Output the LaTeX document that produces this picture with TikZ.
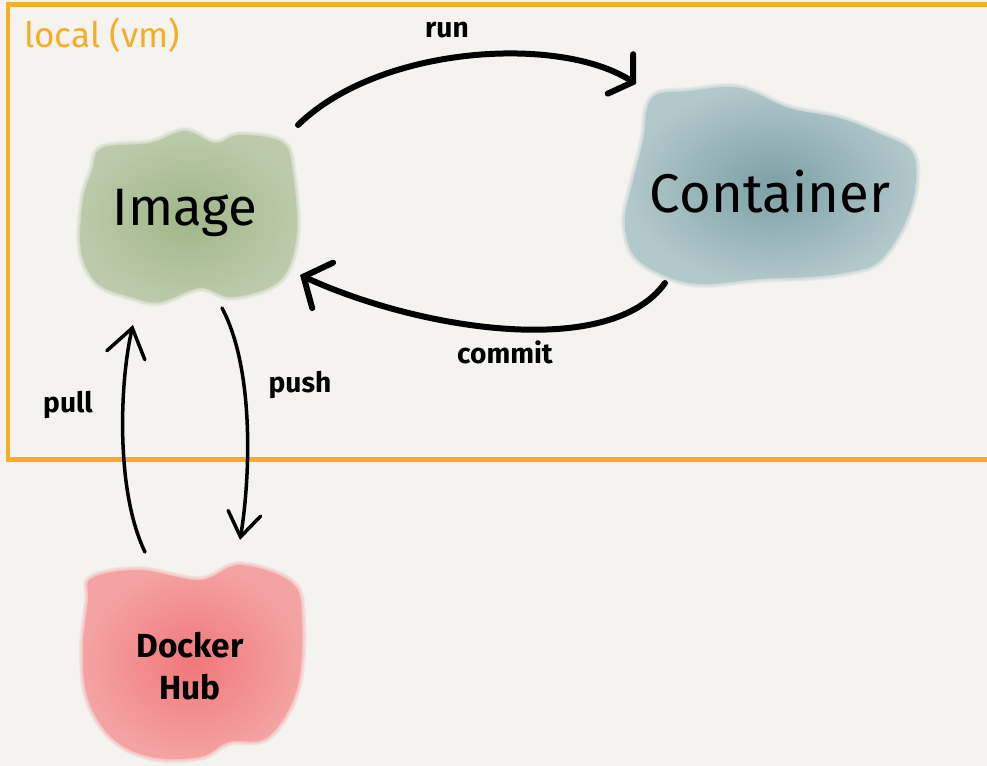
\documentclass[tikz,border=0pt]{standalone}
\usepackage{fontspec}
\setmainfont{Fira Sans}
\usetikzlibrary{arrows.meta}
\definecolor{bgc}{HTML}{F4F3EF}
\definecolor{boxc}{HTML}{F5AE26}
\definecolor{imgin}{HTML}{A0B688}
\definecolor{imgout}{HTML}{BCCAAB}
\definecolor{conin}{HTML}{7CA0A6}
\definecolor{conout}{HTML}{B3C8CB}
\definecolor{hubin}{HTML}{F0777A}
\definecolor{hubout}{HTML}{F4A3A4}
\tikzset{
  bigtxt/.style={font=\fontsize{30}{32}\selectfont, text=black},
  lbl/.style={font=\bfseries\fontsize{16}{18}\selectfont, text=black},
  thick arrow/.style={line width=0.12cm, line cap=round, black},
  thin arrow/.style={line width=0.07cm, line cap=round, black},
  halo/.style={draw=#1, line join=round, draw opacity=0.18},
}
\newcommand{\imgblob}{plot[smooth cycle, tension=0.6] coordinates {(102,148) (150,143) (185,131) (215,143) (240,135) (283,143) (293,175) (297,230) (288,269) (268,288) (230,297) (200,288) (160,302) (131,297) (97,283) (81,250) (83,200) (92,171)}}
\newcommand{\conblob}{plot[smooth cycle, tension=0.6] coordinates {(652,98) (690,91) (740,88) (789,108) (839,118) (878,133) (912,152) (915,190) (902,229) (878,262) (849,272) (810,277) (760,279) (700,284) (661,274) (633,254) (625,220) (633,181) (643,141)}}
\newcommand{\hubblob}{plot[smooth cycle, tension=0.6] coordinates {(92,578) (140,570) (200,580) (240,565) (292,583) (302,620) (297,689) (268,737) (229,742) (200,757) (151,757) (112,738) (88,699) (83,650) (88,601)}}
\begin{document}
\begin{tikzpicture}[x=0.02cm, y=-0.02cm]
\useasboundingbox (0,0) rectangle (987,766);
\fill[bgc] (0,0) rectangle (987,766);
\begin{scope}
\clip (0,0) rectangle (987,766);
% local box
\draw[boxc, line width=0.1cm] (1020,5) -- (8,5) -- (8,460) -- (1020,460);
% Image blob
\foreach \w in {0.04,0.08,0.12,0.16}{\path[halo=imgout, line width=\w cm] \imgblob;}
\shade[inner color=imgin, outer color=imgout] \imgblob;
% Container blob
\foreach \w in {0.04,0.08,0.12,0.16}{\path[halo=conout, line width=\w cm] \conblob;}
\shade[inner color=conin, outer color=conout] \conblob;
% Docker Hub blob
\foreach \w in {0.04,0.08,0.12,0.16}{\path[halo=hubout, line width=\w cm] \hubblob;}
\shade[inner color=hubin, outer color=hubout] \hubblob;
\end{scope}
% labels
\node[font=\fontsize{20}{22}\selectfont, text=boxc] (loc) at (102,35) {local (vm)};
\node[bigtxt] (img) at (185,213) {Image};
\node[bigtxt, font=\fontsize{31}{33}\selectfont] (cont) at (770,192) {Container};
\node[font=\bfseries\fontsize{19}{24}\selectfont, align=center, text=black] (hub) at (190,666) {Docker\\Hub};
% connector end points
\coordinate (runS) at (298,125);
\coordinate (runE) at (636,84);
\coordinate (comS) at (665,283);
\coordinate (comE) at (300,275);
\coordinate (pushS) at (222,308);
\coordinate (pushE) at (240,540);
\coordinate (pullS) at (145,552);
\coordinate (pullE) at (133,325);
% arrows
\draw[thick arrow, -{Straight Barb[length=0.3cm, width=0.94cm, line cap=round]}] (runS) .. controls (380,45) and (560,35) .. (runE);
\draw[thick arrow, -{Straight Barb[length=0.42cm, width=1.0cm, line cap=round]}] (comS) .. controls (610,360) and (420,330) .. (comE);
\draw[thin arrow, -{Straight Barb[length=0.48cm, width=0.66cm, line cap=round]}] (pushS) .. controls (255,370) and (250,480) .. (pushE);
\draw[thin arrow, -{Straight Barb[length=0.56cm, width=0.78cm, line cap=round]}] (pullS) .. controls (115,490) and (120,380) .. (pullE);
\node[lbl] (run) at (447,30) {run};
\node[lbl] (commit) at (505,352) {commit};
\node[lbl] (push) at (300,385) {push};
\node[lbl] (pull) at (68,405) {pull};
\end{tikzpicture}
\end{document}
